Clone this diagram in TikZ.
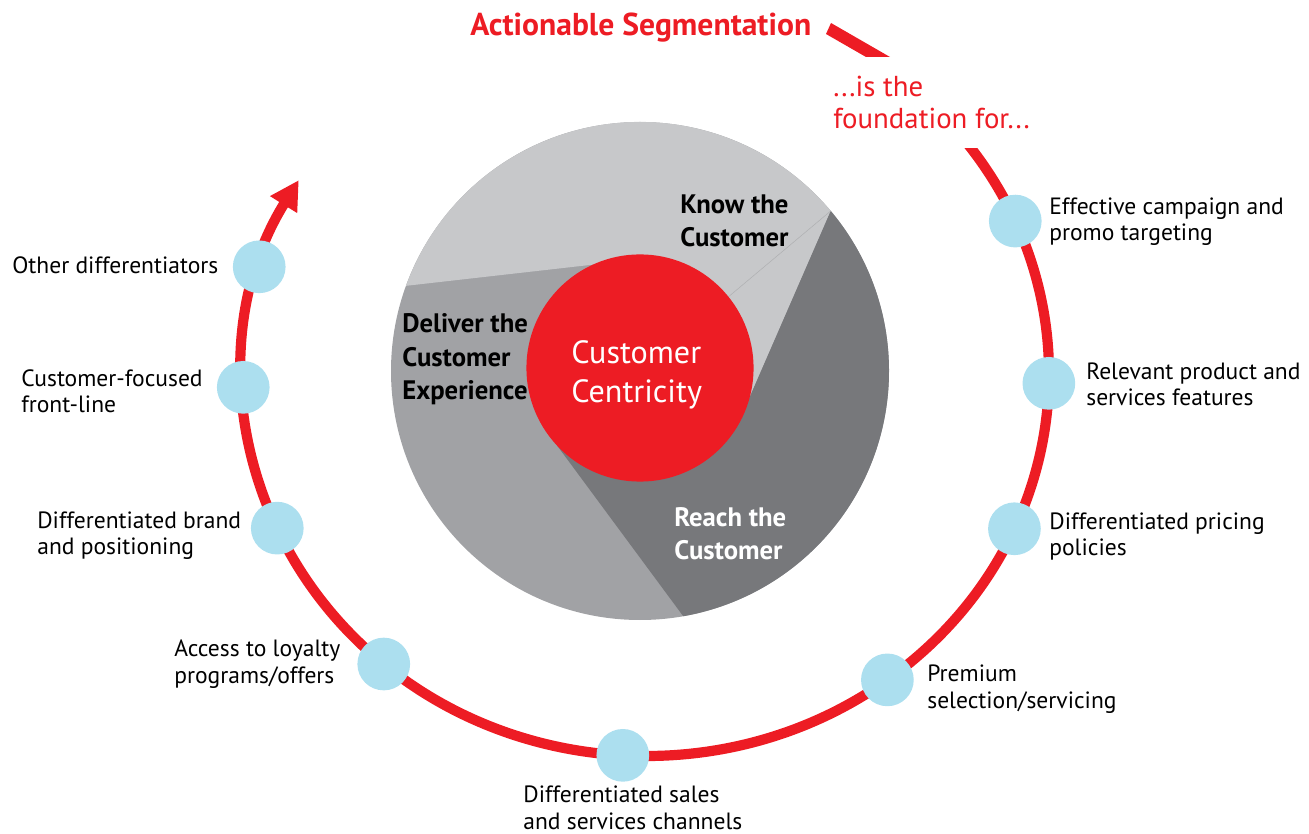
\documentclass[tikz,border=0pt]{standalone}
\usepackage{fontspec}
\setmainfont{PT Sans}
\usetikzlibrary{arrows.meta,calc,positioning}

\definecolor{segred}{HTML}{ED1C24}
\definecolor{dotblue}{HTML}{ACDFEF}
\definecolor{knowgray}{HTML}{C7C8CA}
\definecolor{delivergray}{HTML}{A1A2A5}
\definecolor{reachgray}{HTML}{77787B}

\tikzset{
  ring/.style={segred, line width=5.8pt},
  stopdot/.style={circle, fill=dotblue, minimum size=30pt, inner sep=0pt},
  lbl/.style={align=left, anchor=base west, inner sep=0pt, font=\fontsize{13.4}{15.3}\selectfont},
  slicetxt/.style={align=left, anchor=base west, inner sep=0pt, font=\bfseries\fontsize{15.2}{19.3}\selectfont},
}

\begin{document}
\begin{tikzpicture}[x=0.02cm, y=-0.02cm]
\useasboundingbox (0,0) rectangle (1309,834);
\coordinate (ringc) at (646,374);
\coordinate (piec) at (640,371);

% pie with three slices
\fill[delivergray] (piec) circle[radius=249];
\fill[knowgray] ($(piec)+(-160:249)$) arc[start angle=-160, end angle=-40, radius=249]
  -- ($(piec)+(23.5:111)$) -- ($(piec)+(-96.5:111)$) -- cycle;
\fill[reachgray] ($(piec)+(-40:249)$) arc[start angle=-40, end angle=80, radius=249]
  -- ($(piec)+(143.5:111)$) -- ($(piec)+(23.5:111)$) -- cycle;
\draw[knowgray!88!black, line width=0.3pt] ($(piec)+(-40:249)$) -- (piec);

\node[circle, fill=segred, minimum size=129.3pt, inner sep=0pt] (hub) at (640,368) {};
% base of a two-line node = last line
\node[align=left, anchor=base west, inner sep=0pt, text=white,
  font=\fontsize{18.3}{22.7}\selectfont] (hubtxt) at (571,403) {Customer\\Centricity};

\node[slicetxt] (know) at (680,247) {Know the\\Customer};
\node[slicetxt] (deliver) at (402,400) {Deliver the\\Customer\\Experience};
\node[slicetxt, text=white] (reach) at (674,560) {Reach the\\Customer};

% outer ring
\fill[segred] (831,23) -- (890,57) -- (866,57) -- (826,34) -- cycle;
\draw[ring, -{Triangle[length=16.4pt, width=17pt]}] ($(ringc)+(-40:403 and 382)$)
  arc[start angle=-40, end angle=210.5, x radius=403, y radius=382];

\node[font=\bfseries\fontsize{18}{21}\selectfont, text=segred, anchor=base west, inner sep=0pt]
  (title) at (470,36) {Actionable Segmentation};
\node[fill=white, text=segred, align=left, anchor=base west, inner xsep=0pt, inner ysep=10.5pt,
  font=\fontsize{16.4}{18.7}\selectfont] (found) at (833,129) {...is the\\foundation for...};

% stops on the ring
\foreach \t/\n in {-23.6/effective, 1.4/relevant, 23.9/pricing, 53.2/premium, 93.3/sales,
  130.6/loyalty, 156.2/brand, 178/frontline, 196.3/other}
  \node[stopdot] (\n) at ($(ringc)+(\t:403 and 382)$) {};

\node[lbl] (effectivetxt) at (1049,241) {Effective campaign and\\promo targeting};
\node[lbl] (relevanttxt) at (1086,406) {Relevant product and\\services features};
\node[lbl] (pricingtxt) at (1049,556) {Differentiated pricing\\policies};
\node[lbl] (premiumtxt) at (927,708) {Premium\\selection/servicing};
\node[lbl] (salestxt) at (523,829) {Differentiated sales\\and services channels};
\node[lbl] (loyaltytxt) at (174,683) {Access to loyalty\\programs/offers};
\node[lbl] (brandtxt) at (37,555) {Differentiated brand\\and positioning};
\node[lbl] (frontlinetxt) at (21,413) {Customer-focused\\front-line};
\node[lbl] (othertxt) at (12,274) {Other differentiators};
\end{tikzpicture}
\end{document}
